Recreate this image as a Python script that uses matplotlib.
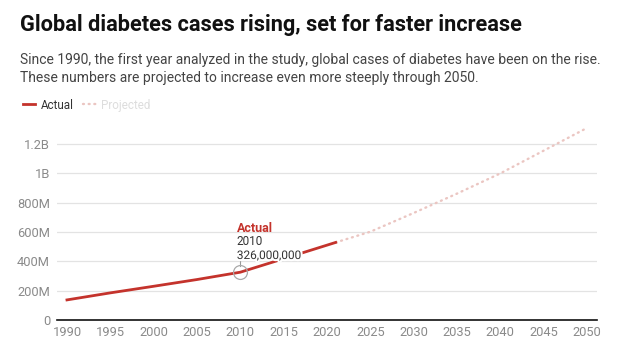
import numpy as np
import matplotlib.pyplot as plt
import matplotlib.patheffects as pe

plt.rcParams['font.family'] = ['Roboto', 'DejaVu Sans']

# --- data (cases, millions) ---
actual_years = [1990, 1995, 2000, 2005, 2010, 2015, 2021]
actual_cases = [137, 185, 230, 276, 326, 418, 529]
proj_years = [2021, 2025, 2030, 2035, 2040, 2045, 2050]
proj_cases = [529, 602, 730, 862, 1000, 1155, 1310]
yticks = [0, 200, 400, 600, 800, 1000, 1200]
ytick_labels = ['0', '200M', '400M', '600M', '800M', '1B', '1.2B']
xticks = list(range(1990, 2051, 5))

red = '#c4332c'
pink = '#ebc6c2'
gray = '#8a8a8a'

fig = plt.figure(figsize=(6.34, 3.5), dpi=100)
ax = fig.add_axes([57/634, 1 - 320/350, 540/634, 200/350])

ax.plot(proj_years, proj_cases, color=pink, lw=1.7, linestyle=(0, (0.4, 2.0)),
        dash_capstyle='round', label='Projected')
ax.plot(actual_years, actual_cases, color=red, lw=2, label='Actual', zorder=3)

# highlighted point
ax.plot([2010], [326], marker='o', ms=10, mfc='none', mec='#aaaaaa', mew=0.9, zorder=4)
ax.plot([2010, 2010], [370, 400], color='#999999', lw=0.8)
halo = [pe.withStroke(linewidth=3, foreground='white')]
ax.text(2009.6, 625, 'Actual', color=red, fontsize=9, fontweight='bold', va='center', ha='left')
ax.text(2009.6, 535, '2010', color='#333333', fontsize=8.5, va='center', ha='left')
ax.text(2009.6, 440, '326,000,000', color='#333333', fontsize=8.5, va='center', ha='left',
        path_effects=halo, zorder=5)

ax.set_xlim(1988.85, 2051.15)
ax.set_ylim(0, 1364)
ax.set_yticks(yticks)
ax.set_yticklabels(ytick_labels)
ax.set_xticks(xticks)
ax.tick_params(length=0, colors=gray, labelsize=9.3)
ax.tick_params(axis='y', pad=5)
ax.tick_params(axis='x', pad=4)
ax.grid(axis='y', color='#e3e3e3', lw=0.9)
ax.set_axisbelow(True)
for s in ['top', 'right', 'left']:
    ax.spines[s].set_visible(False)
ax.spines['bottom'].set_color('#111111')
ax.spines['bottom'].set_linewidth(1.2)

fig.text(20/634, 1 - 25/350, 'Global diabetes cases rising, set for faster increase',
         fontsize=15.7, fontweight='bold', color='#111111', va='center')
fig.text(20/634, 1 - 60/350,
         'Since 1990, the first year analyzed in the study, global cases of diabetes have been on the rise.',
         fontsize=10, color='#444444', va='center')
fig.text(20/634, 1 - 78/350,
         'These numbers are projected to increase even more steeply through 2050.',
         fontsize=10, color='#444444', va='center')

h, l = ax.get_legend_handles_labels()
leg = fig.legend(h[::-1], l[::-1], loc='center left', bbox_to_anchor=(12/634, 1 - 105/350),
                 ncol=2, frameon=False, fontsize=8.4, handlelength=1.1, handletextpad=0.45,
                 columnspacing=0.8)
leg.get_texts()[0].set_color('#333333')
leg.get_texts()[1].set_color('#dddddd')

fig.savefig('out.png', dpi=100, facecolor='white')
